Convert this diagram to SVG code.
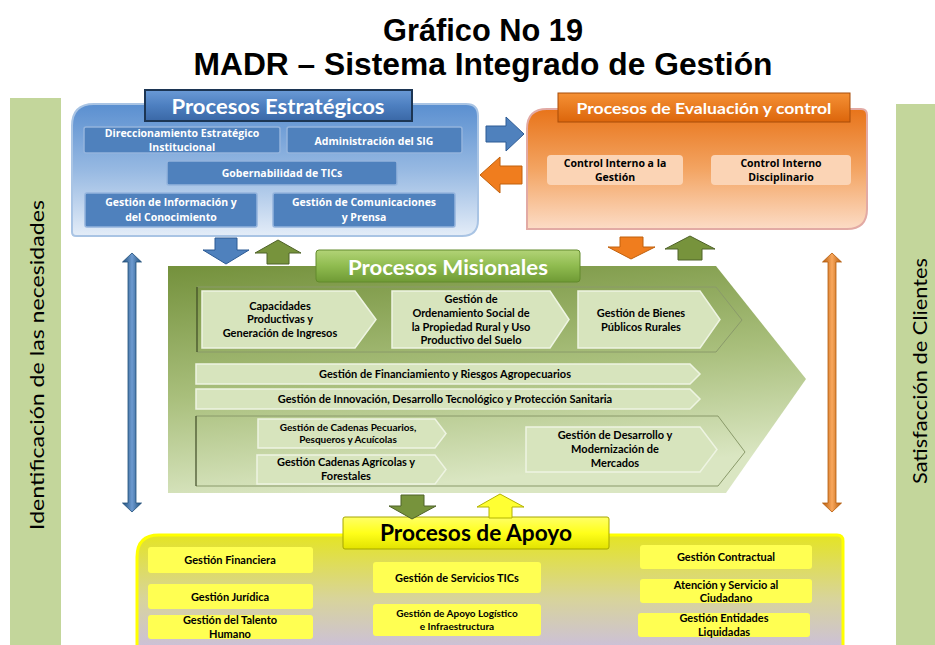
<svg xmlns="http://www.w3.org/2000/svg" width="935" height="645" viewBox="0 0 935 645">
<defs>
<linearGradient id="gBlue" x1="0" y1="0" x2="0" y2="1"><stop offset="0" stop-color="#5a8fd0"/><stop offset="0.5" stop-color="#97b9e2"/><stop offset="1" stop-color="#e4edf8"/></linearGradient>
<linearGradient id="gOrange" x1="0" y1="0" x2="0" y2="1"><stop offset="0" stop-color="#e8741a"/><stop offset="0.5" stop-color="#f3a462"/><stop offset="1" stop-color="#fcdcc6"/></linearGradient>
<linearGradient id="gGreen" x1="0" y1="0" x2="0.25" y2="1"><stop offset="0" stop-color="#74913c"/><stop offset="0.55" stop-color="#a9bf7c"/><stop offset="1" stop-color="#dae6c2"/></linearGradient>
<linearGradient id="gYellow" x1="0" y1="0" x2="0" y2="1"><stop offset="0" stop-color="#e4e424"/><stop offset="0.55" stop-color="#d8d49a"/><stop offset="1" stop-color="#cbbfdc"/></linearGradient>
<linearGradient id="tBlue" x1="0" y1="0" x2="0" y2="1"><stop offset="0" stop-color="#6a9ad6"/><stop offset="0.5" stop-color="#4d7fc0"/><stop offset="1" stop-color="#3a68a6"/></linearGradient>
<linearGradient id="tOrange" x1="0" y1="0" x2="0" y2="1"><stop offset="0" stop-color="#f59135"/><stop offset="1" stop-color="#dc650b"/></linearGradient>
<linearGradient id="tGreen" x1="0" y1="0" x2="0" y2="1"><stop offset="0" stop-color="#b2d377"/><stop offset="0.5" stop-color="#8fbb4f"/><stop offset="1" stop-color="#6f9a35"/></linearGradient>
<linearGradient id="tYellow" x1="0" y1="0" x2="0" y2="1"><stop offset="0" stop-color="#ffff66"/><stop offset="0.5" stop-color="#ffff1a"/><stop offset="1" stop-color="#e2e200"/></linearGradient>
<linearGradient id="vBlue" x1="0" y1="0" x2="1" y2="0"><stop offset="0" stop-color="#1f4e79"/><stop offset="0.5" stop-color="#6d9ad0"/><stop offset="1" stop-color="#1f4e79"/></linearGradient>
<linearGradient id="vOrange" x1="0" y1="0" x2="1" y2="0"><stop offset="0" stop-color="#b45a0a"/><stop offset="0.5" stop-color="#f9a75c"/><stop offset="1" stop-color="#b45a0a"/></linearGradient>
<style>
.ts{font-family:"Open Sans","DejaVu Sans",sans-serif;font-weight:bold;font-size:10.5px;fill:#ffffff;text-anchor:middle}
.to{font-family:"Open Sans","DejaVu Sans",sans-serif;font-weight:bold;font-size:10.5px;fill:#000000;text-anchor:middle}
.tm{font-family:Lato,"Liberation Sans",sans-serif;font-weight:bold;font-size:11px;fill:#000000;text-anchor:middle}
.tms{font-family:Lato,"Liberation Sans",sans-serif;font-weight:bold;font-size:10px;fill:#000000;text-anchor:middle}
.hd{font-family:Lato,"Open Sans",sans-serif;font-weight:bold;text-anchor:middle}
.side{font-family:Lato,"Open Sans",sans-serif;font-size:20px;fill:#000000;text-anchor:middle}
.title{font-family:"Liberation Sans",Arial,sans-serif;font-weight:bold;font-size:31px;fill:#000000;text-anchor:middle}
.bbox{fill:#4f81bd;stroke:#94b4dd;stroke-width:1.5}
.obox{fill:#fbd4b5}
.mchev{fill:#d7e4bd;stroke:#eef4e2;stroke-width:1.5}
.ybox{fill:#ffff52}
.strip{fill:#c3d69b}
</style>
</defs>

<rect width="935" height="645" fill="#ffffff"/>

<g id="title">
<text class="title" x="483" y="41" textLength="200" lengthAdjust="spacingAndGlyphs">Gráfico No 19</text>
<text class="title" x="483" y="75" textLength="579" lengthAdjust="spacingAndGlyphs">MADR – Sistema Integrado de Gestión</text>
</g>

<g id="identificacion">
<rect class="strip" x="10" y="98" width="51" height="547"/>
<text class="side" transform="translate(44,365) rotate(-90)" textLength="330" lengthAdjust="spacingAndGlyphs">Identificación de las necesidades</text>
</g>

<g id="satisfaccion">
<rect class="strip" x="896" y="104" width="39" height="541"/>
<text class="side" transform="translate(927,371) rotate(-90)" textLength="226" lengthAdjust="spacingAndGlyphs">Satisfacción de Clientes</text>
</g>

<g id="estrategicos">
<path d="M72,126 Q72,104 94,104 L466,104 Q478,104 478,116 L478,220 Q478,236 462,236 L76,236 Q72,236 72,232 Z" fill="url(#gBlue)" stroke="#a9c4e4" stroke-width="2"/>
<rect x="145" y="90" width="267" height="31" fill="url(#tBlue)" stroke="#1c3553" stroke-width="2"/>
<text class="hd" x="278" y="114" font-size="20" fill="#ffffff" textLength="213" lengthAdjust="spacingAndGlyphs">Procesos Estratégicos</text>
<rect class="bbox" x="84" y="127" width="196" height="26" rx="2"/>
<text class="ts" x="182" y="137">Direccionamiento Estratégico</text>
<text class="ts" x="182" y="151">Institucional</text>
<rect class="bbox" x="287" y="127" width="175" height="26" rx="2"/>
<text class="ts" x="374" y="145">Administración del SIG</text>
<rect class="bbox" x="167" y="161" width="230" height="24" rx="2"/>
<text class="ts" x="282" y="177">Gobernabilidad de TICs</text>
<rect class="bbox" x="85" y="193" width="172" height="34" rx="2"/>
<text class="ts" x="171" y="206">Gestión de Información y</text>
<text class="ts" x="171" y="221">del Conocimiento</text>
<rect class="bbox" x="273" y="193" width="182" height="34" rx="2"/>
<text class="ts" x="364" y="206">Gestión de Comunicaciones</text>
<text class="ts" x="364" y="221">y  Prensa</text>
</g>

<g id="evaluacion">
<path d="M527,129 Q527,109 547,109 L861,109 Q867,109 867,115 L867,209 Q867,229 847,229 L527,229 Z" fill="url(#gOrange)" stroke="#e2aaa4" stroke-width="2"/>
<rect x="558" y="93" width="292" height="29" fill="url(#tOrange)" stroke="#a84c08" stroke-width="1"/>
<text class="hd" x="704" y="114" font-size="16" fill="#ffffff" textLength="255" lengthAdjust="spacingAndGlyphs">Procesos de Evaluación y control</text>
<rect class="obox" x="547" y="155" width="136" height="30" rx="4"/>
<text class="to" x="615" y="167">Control Interno a la</text>
<text class="to" x="615" y="181">Gestión</text>
<rect class="obox" x="711" y="155" width="140" height="30" rx="4"/>
<text class="to" x="781" y="167">Control Interno</text>
<text class="to" x="781" y="181">Disciplinario</text>
</g>

<g id="misionales">
<polygon points="168,266 716,266 806,379 726,493 168,493" fill="url(#gGreen)"/>
<path d="M197,287 L716,287 L742,320 L716,352 L197,352" fill="none" stroke="#8a9a6a" stroke-width="1"/>
<line x1="197" y1="287" x2="197" y2="352" stroke="#3e4a26" stroke-width="1.2"/>
<path d="M196,416 L718,416 L745,452 L718,486 L196,486" fill="none" stroke="#8a9a6a" stroke-width="1"/>
<line x1="196" y1="416" x2="196" y2="486" stroke="#3e4a26" stroke-width="1.2"/>
<rect x="316" y="250" width="264" height="32" rx="3" fill="url(#tGreen)" stroke="#628a2c" stroke-width="1"/>
<text class="hd" x="448" y="275" font-size="21" fill="#ffffff" textLength="200" lengthAdjust="spacingAndGlyphs">Procesos Misionales</text>

<polygon class="mchev" points="202,291 355,291 376,319.5 355,348 202,348"/>
<text class="tm" x="280" y="310">Capacidades</text>
<text class="tm" x="280" y="323">Productivas y</text>
<text class="tm" x="280" y="337">Generación de Ingresos</text>

<polygon class="mchev" points="392,291 550,291 569,319.5 550,348 392,348"/>
<text class="tm" x="471" y="303">Gestión de</text>
<text class="tm" x="471" y="317">Ordenamiento Social de</text>
<text class="tm" x="471" y="331">la Propiedad Rural y Uso</text>
<text class="tm" x="471" y="344">Productivo del Suelo</text>

<polygon class="mchev" points="578,291 700,291 720,319.5 700,348 578,348"/>
<text class="tm" x="641" y="317">Gestión de Bienes</text>
<text class="tm" x="641" y="331">Públicos Rurales</text>

<polygon class="mchev" points="196,364 690,364 700,374 690,384 196,384"/>
<text class="tm" x="445" y="378">Gestión de Financiamiento y Riesgos Agropecuarios</text>

<polygon class="mchev" points="196,389 690,389 700,399 690,409 196,409"/>
<text class="tm" x="445" y="403">Gestión de Innovación, Desarrollo Tecnológico y Protección Sanitaria</text>

<polygon class="mchev" points="258,419 435,419 446,433.5 435,448 258,448"/>
<text class="tms" x="348" y="431">Gestión de Cadenas Pecuarios,</text>
<text class="tms" x="348" y="443">Pesqueros y Acuícolas</text>

<polygon class="mchev" points="257,455 435,455 446,469.5 435,484 257,484"/>
<text class="tm" x="346" y="466">Gestión Cadenas Agrícolas y</text>
<text class="tm" x="346" y="480">Forestales</text>

<polygon class="mchev" points="526,427 700,427 717,449.5 700,472 526,472"/>
<text class="tm" x="615" y="439">Gestión de Desarrollo y</text>
<text class="tm" x="615" y="453">Modernización de</text>
<text class="tm" x="615" y="467">Mercados</text>
</g>

<g id="apoyo">
<path d="M137,557 Q137,535 159,535 L837,535 Q843,535 843,541 L843,650 L137,650 Z" fill="url(#gYellow)" stroke="#ffff00" stroke-width="3"/>
<rect x="343" y="517" width="266" height="32" rx="2" fill="url(#tYellow)" stroke="#a6a600" stroke-width="1"/>
<text class="hd" x="476" y="541" font-size="22" fill="#000000" textLength="192" lengthAdjust="spacingAndGlyphs">Procesos de Apoyo</text>
<rect class="ybox" x="148" y="547" width="165" height="26" rx="3"/>
<text class="tm" x="230" y="564">Gestión Financiera</text>
<rect class="ybox" x="148" y="584" width="165" height="25" rx="3"/>
<text class="tm" x="230" y="601">Gestión Jurídica</text>
<rect class="ybox" x="148" y="615" width="165" height="24" rx="3"/>
<text class="tm" x="230" y="624">Gestión del Talento</text>
<text class="tm" x="230" y="638">Humano</text>
<rect class="ybox" x="373" y="562" width="168" height="31" rx="3"/>
<text class="tm" x="457" y="582">Gestión de Servicios TICs</text>
<rect class="ybox" x="373" y="604" width="168" height="32" rx="3"/>
<text class="tms" x="457" y="617">Gestión de Apoyo Logístico</text>
<text class="tms" x="457" y="630">e Infraestructura</text>
<rect class="ybox" x="640" y="545" width="172" height="24" rx="3"/>
<text class="tm" x="726" y="561">Gestión Contractual</text>
<rect class="ybox" x="640" y="579" width="172" height="24" rx="3"/>
<text class="tm" x="726" y="589">Atención y Servicio al</text>
<text class="tm" x="726" y="602">Ciudadano</text>
<rect class="ybox" x="638" y="613" width="172" height="24" rx="3"/>
<text class="tm" x="724" y="622">Gestión Entidades</text>
<text class="tm" x="724" y="636">Liquidadas</text>
</g>

<g id="connectors">
<path d="M486,126 L506,126 L506,117 L524,134 L506,151 L506,142 L486,142 Z" fill="#4f81bd" stroke="#2c5a94" stroke-width="1"/>
<path d="M522,166 L500,166 L500,157 L480,175 L500,193 L500,184 L522,184 Z" fill="#f07d1e" stroke="#c0600c" stroke-width="1"/>
<path d="M215,238 L237,238 L237,250 L249,250 L226,264 L203,250 L215,250 Z" fill="#4f81bd" stroke="#2c5a94" stroke-width="1"/>
<path d="M278,240 L301,253 L289,253 L289,264 L267,264 L267,253 L255,253 Z" fill="#77933c" stroke="#4f6228" stroke-width="1"/>
<path d="M620,237 L643,237 L643,247 L655,247 L631,259 L608,247 L620,247 Z" fill="#f07d1e" stroke="#c0600c" stroke-width="1"/>
<path d="M690,236 L715,249 L702,249 L702,260 L678,260 L678,249 L665,249 Z" fill="#77933c" stroke="#4f6228" stroke-width="1"/>
<path d="M401,495 L424,495 L424,506 L436,506 L412,519 L389,506 L401,506 Z" fill="#77933c" stroke="#4f6228" stroke-width="1"/>
<path d="M500,494 L524,507 L512,507 L512,518 L489,518 L489,507 L477,507 Z" fill="#ffff33" stroke="#b3b300" stroke-width="1"/>
<path d="M132,253 L141.5,262 L136,262 L136,503 L141.5,503 L132,512 L122.5,503 L128,503 L128,262 L122.5,262 Z" fill="url(#vBlue)" stroke="#1f4e79" stroke-width="0.8"/>
<path d="M832,253 L841.5,262 L836,262 L836,503 L841.5,503 L832,512 L822.5,503 L828,503 L828,262 L822.5,262 Z" fill="url(#vOrange)" stroke="#b45a0a" stroke-width="0.8"/>
</g>
</svg>
